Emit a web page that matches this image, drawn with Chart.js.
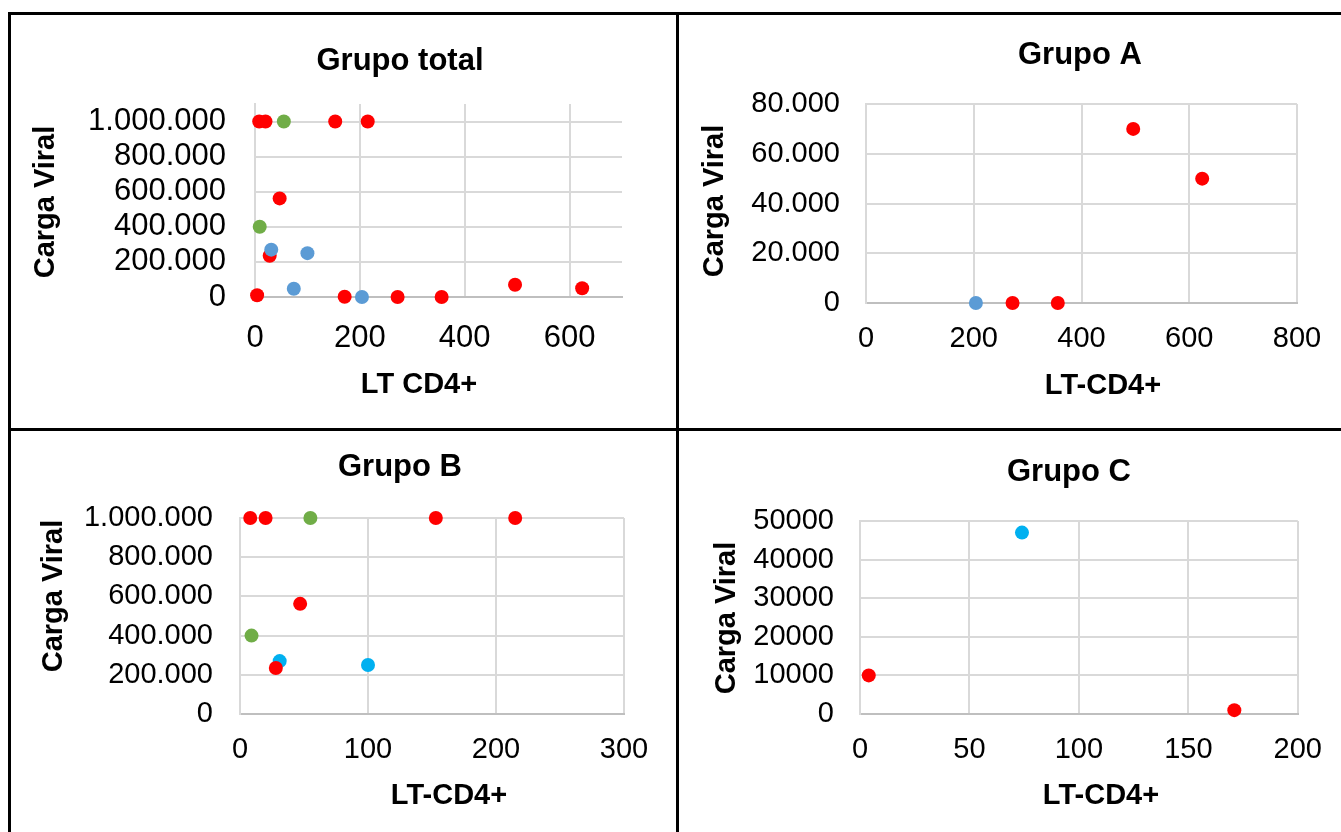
<!DOCTYPE html>
<html>
<head>
<meta charset="utf-8">
<title>Carga Viral x LT CD4+</title>
<script src="https://cdn.jsdelivr.net/npm/chart.js@4.4.1/dist/chart.umd.min.js"></script>
<style>
  html, body { margin: 0; padding: 0; background: #fff; }
  body { width: 1341px; height: 832px; position: relative; overflow: hidden; }
  .line { position: absolute; background: #000; }
  .panel { position: absolute; }
  .panel canvas { display: block; }
</style>
</head>
<body>
<div class="line" style="left:8px;top:12px;width:1333px;height:3px"></div>
<div class="line" style="left:8px;top:12px;width:3px;height:820px"></div>
<div class="line" style="left:676px;top:12px;width:3px;height:820px"></div>
<div class="line" style="left:8px;top:428px;width:1333px;height:3px"></div>

<div class="panel" style="left:11px;top:15px"><canvas id="chartTotal" width="665" height="413"></canvas></div>
<div class="panel" style="left:679px;top:15px"><canvas id="chartA" width="662" height="413"></canvas></div>
<div class="panel" style="left:11px;top:431px"><canvas id="chartB" width="665" height="401"></canvas></div>
<div class="panel" style="left:679px;top:431px"><canvas id="chartC" width="662" height="401"></canvas></div>

<script>
// Grupo A  (LT-CD4+ vs carga viral)
const grupoARedCd4 = [496, 624, 272, 356];
const grupoARedCv = [70000, 50000, 0, 0];
const grupoABlueCd4 = [204];
const grupoABlueCv = [0];

// Grupo B
const grupoBRedCd4 = [8, 20, 153, 215, 47, 28];
const grupoBRedCv = [1000000, 1000000, 1000000, 1000000, 562000, 235000];
const grupoBBlueCd4 = [31, 100];
const grupoBBlueCv = [270000, 250000];
const grupoBGreenCd4 = [55, 9];
const grupoBGreenCv = [1000000, 400000];

// Grupo C
const grupoCRedCd4 = [4, 171];
const grupoCRedCv = [10000, 1000];
const grupoCBlueCd4 = [74];
const grupoCBlueCv = [47000];

// axis ranges and tick values
const totalXRange = [0, 700];
const totalXTicks = [0, 200, 400, 600];
const totalYRange = [0, 1100000];
const totalYTicks = [0, 200000, 400000, 600000, 800000, 1000000];
const aXRange = [0, 800];
const aXTicks = [0, 200, 400, 600, 800];
const aYRange = [0, 80000];
const aYTicks = [0, 20000, 40000, 60000, 80000];
const bXRange = [0, 300];
const bXTicks = [0, 100, 200, 300];
const bYRange = [0, 1000000];
const bYTicks = [0, 200000, 400000, 600000, 800000, 1000000];
const cXRange = [0, 200];
const cXTicks = [0, 50, 100, 150, 200];
const cYRange = [0, 50000];
const cYTicks = [0, 10000, 20000, 30000, 40000, 50000];

const RED = '#FF0000';
const BLUE = '#5B9BD5';
const CYAN = '#00B0F0';
const GREEN = '#70AD47';
const FONT = '"Liberation Sans", Arial, sans-serif';

function toPoints(xs, ys) {
    return xs.map((x, i) => ({ x: x, y: ys[i] }));
}

function dots(v) {
    return String(v).replace(/\B(?=(\d{3})+(?!\d))/g, '.');
}

// titles drawn at fixed spots inside each panel
const panelText = {
    id: 'panelText',
    afterDraw(chart, args, opts) {
        const ctx = chart.ctx;
        ctx.save();
        ctx.fillStyle = '#000';
        ctx.textAlign = 'center';
        ctx.textBaseline = 'middle';
        ctx.font = 'bold 31px ' + FONT;
        ctx.fillText(opts.title[0], opts.title[1], opts.title[2]);
        ctx.font = 'bold 29px ' + FONT;
        ctx.fillText(opts.xTitle[0], opts.xTitle[1], opts.xTitle[2]);
        ctx.translate(opts.yTitle[1], opts.yTitle[2]);
        ctx.rotate(-Math.PI / 2);
        ctx.fillText(opts.yTitle[0], 0, 0);
        ctx.restore();
    }
};

function makeChart(id, p) {
    const ds = p.series.map(s => ({
        data: s.data,
        backgroundColor: s.color,
        borderWidth: 0,
        pointRadius: 7,
        pointHoverRadius: 7,
        clip: false
    }));
    new Chart(document.getElementById(id), {
        type: 'scatter',
        data: { datasets: ds },
        plugins: [panelText],
        options: {
            responsive: false,
            animation: false,
            events: [],
            layout: { padding: p.padding },
            plugins: {
                legend: { display: false },
                tooltip: { enabled: false },
                title: { display: false },
                panelText: p.text
            },
            scales: {
                x: {
                    type: 'linear',
                    min: p.xRange[0],
                    max: p.xRange[1],
                    afterBuildTicks: sc => { sc.ticks = p.xTicks.map(v => ({ value: v })); },
                    afterFit: sc => { sc.height = 60; },
                    ticks: {
                        autoSkip: false,
                        maxRotation: 0,
                        padding: p.xPad,
                        color: '#000',
                        font: { family: FONT, size: p.tickSize }
                    },
                    grid: { color: '#D9D9D9', lineWidth: 2, drawTicks: false },
                    border: { color: '#BFBFBF', width: 2 }
                },
                y: {
                    type: 'linear',
                    min: p.yRange[0],
                    max: p.yRange[1],
                    afterBuildTicks: sc => { sc.ticks = p.yTicks.map(v => ({ value: v })); },
                    afterFit: sc => { sc.width = p.yWidth; },
                    ticks: {
                        autoSkip: false,
                        padding: p.yPad,
                        color: '#000',
                        font: { family: FONT, size: p.tickSize },
                        callback: p.fmt
                    },
                    grid: { color: '#D9D9D9', lineWidth: 2, drawTicks: false },
                    border: { color: '#D9D9D9', width: 2 }
                }
            }
        }
    });
}

makeChart('chartTotal', {
    series: [
        { data: toPoints(grupoABlueCd4.concat(grupoBBlueCd4, grupoCBlueCd4), grupoABlueCv.concat(grupoBBlueCv, grupoCBlueCv)), color: BLUE },
        { data: toPoints(grupoARedCd4.concat(grupoBRedCd4, grupoCRedCd4), grupoARedCv.concat(grupoBRedCv, grupoCRedCv)), color: RED },
        { data: toPoints(grupoBGreenCd4, grupoBGreenCv), color: GREEN }
    ],
    xRange: totalXRange, xTicks: totalXTicks, yRange: totalYRange, yTicks: totalYTicks,
    padding: { left: 0, top: 89, right: 54, bottom: 71 },
    yWidth: 244, yPad: 29, xPad: 23, tickSize: 31,
    fmt: v => dots(v),
    text: { title: ['Grupo total', 389, 46], xTitle: ['LT CD4+', 408, 370], yTitle: ['Carga Viral', 35, 187] }
});

makeChart('chartA', {
    series: [
        { data: toPoints(grupoARedCd4, grupoARedCv), color: RED },
        { data: toPoints(grupoABlueCd4, grupoABlueCv), color: BLUE }
    ],
    xRange: aXRange, xTicks: aXTicks, yRange: aYRange, yTicks: aYTicks,
    padding: { left: 0, top: 89, right: 44, bottom: 65 },
    yWidth: 187, yPad: 26, xPad: 19, tickSize: 29,
    fmt: v => dots(v),
    text: { title: ['Grupo A', 401, 40], xTitle: ['LT-CD4+', 424, 371], yTitle: ['Carga Viral', 36, 186] }
});

makeChart('chartB', {
    series: [
        { data: toPoints(grupoBRedCd4, grupoBRedCv), color: RED },
        { data: toPoints(grupoBBlueCd4, grupoBBlueCv), color: CYAN },
        { data: toPoints(grupoBGreenCd4, grupoBGreenCv), color: GREEN }
    ],
    xRange: bXRange, xTicks: bXTicks, yRange: bYRange, yTicks: bYTicks,
    padding: { left: 0, top: 87, right: 52, bottom: 58 },
    yWidth: 229, yPad: 27, xPad: 19, tickSize: 29,
    fmt: v => dots(v),
    text: { title: ['Grupo B', 389, 36], xTitle: ['LT-CD4+', 438, 365], yTitle: ['Carga Viral', 43, 165] }
});

makeChart('chartC', {
    series: [
        { data: toPoints(grupoCRedCd4, grupoCRedCv), color: RED },
        { data: toPoints(grupoCBlueCd4, grupoCBlueCv), color: CYAN }
    ],
    xRange: cXRange, xTicks: cXTicks, yRange: cYRange, yTicks: cYTicks,
    padding: { left: 0, top: 90, right: 43, bottom: 58 },
    yWidth: 181, yPad: 26, xPad: 19, tickSize: 29,
    fmt: v => String(v),
    text: { title: ['Grupo C', 390, 41], xTitle: ['LT-CD4+', 422, 365], yTitle: ['Carga Viral', 48, 187] }
});
</script>
</body>
</html>
